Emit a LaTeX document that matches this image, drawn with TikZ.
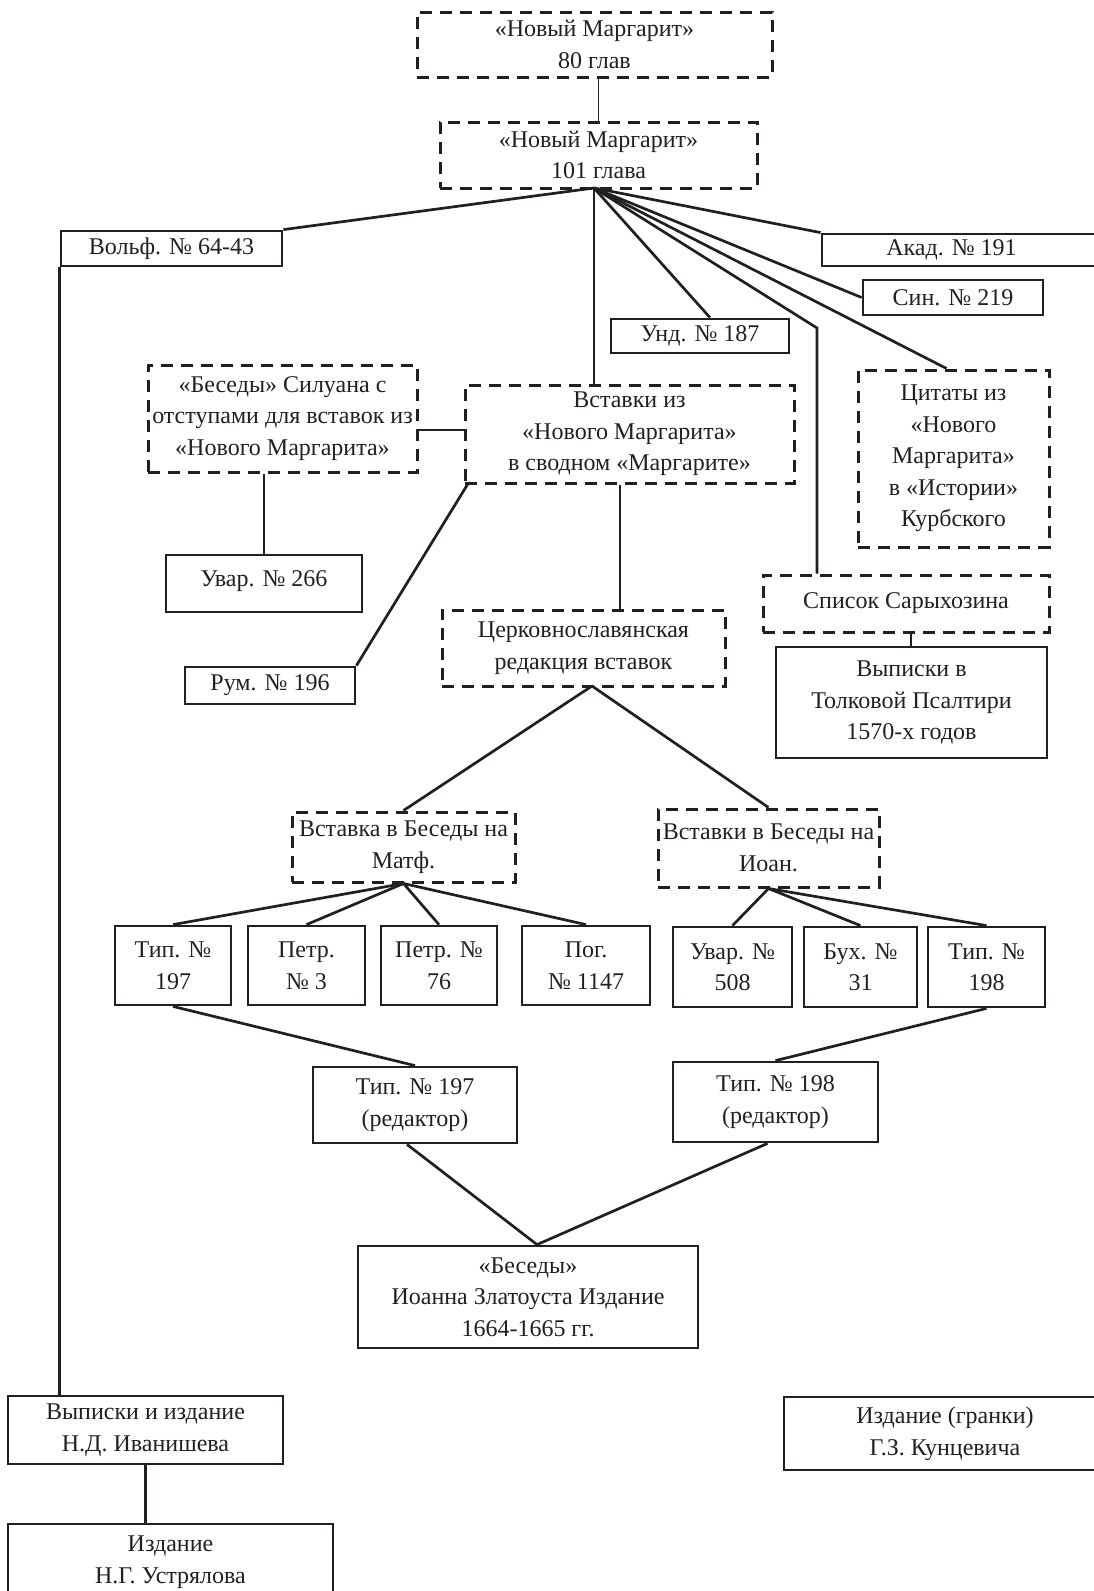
\documentclass[tikz,border=0pt]{standalone}
\usepackage{fontspec}
\setmainfont{Liberation Serif}
\definecolor{ink}{RGB}{35,31,32}
\newcommand\bx[7]{\node[#6, minimum width={(#4-#2)*1pt}, minimum height={(#5-#3)*1pt}] (#1) at ({(#2+#4)/2},{(#3+#5)/2}) {#7};}
\begin{document}
\begin{tikzpicture}[x=1pt,y=-1pt,
  every node/.style={font=\fontsize{24}{31.5}\selectfont, text=ink, align=center, inner sep=1pt},
  solidbox/.style={draw=ink, line width=2.8pt},
  dashbox/.style={draw=ink, line width=3pt, dash pattern=on 12pt off 8pt},
  conn/.style={draw=ink, line width=2.7pt},
  thinconn/.style={draw=ink, line width=1.6pt}]
\useasboundingbox (0,0) rectangle (1093,1591);

\bx{top80}{417}{12}{772}{77}{dashbox}{«Новый Маргарит»\\80 глав}
\bx{m101}{440}{122}{757}{188}{dashbox}{«Новый Маргарит»\\101 глава}
\bx{volf}{61}{231}{282}{266}{solidbox}{Вольф. № 64-43}
\bx{akad}{822}{234}{1105}{266}{solidbox}{Акад. № 191\hspace*{24pt}}
\bx{sin}{863}{280}{1043}{315}{solidbox}{Син. № 219}
\bx{und}{611}{319}{789}{353}{solidbox}{Унд. № 187}
\bx{sil}{148}{365}{417}{472}{dashbox}{«Беседы» Силуана с\\отступами для вставок из\\«Нового Маргарита»}
\bx{vst}{465}{385}{794}{483}{dashbox}{Вставки из\\«Нового Маргарита»\\в сводном «Маргарите»}
\bx{cit}{858}{370}{1049}{547}{dashbox}{Цитаты из\\«Нового\\Маргарита»\\в «Истории»\\Курбского}
\bx{uvA}{166}{555}{362}{612}{solidbox}{\raisebox{10pt}{Увар. № 266}}
\bx{rum}{185}{667}{355}{704}{solidbox}{Рум. № 196}
\bx{cerk}{442}{610}{725}{686}{dashbox}{Церковнославянская\\редакция вставок}
\bx{spis}{763}{575}{1049}{632}{dashbox}{Список Сарыхозина}
\bx{vyp}{776}{647}{1047}{758}{solidbox}{Выписки в\\Толковой Псалтири\\1570-х годов}
\bx{matf}{292}{812}{515}{882}{dashbox}{Вставка в Беседы на\\Матф.}
\bx{ioan}{658}{809}{879}{887}{dashbox}{Вставки в Беседы на\\Иоан.}
\bx{tA}{115}{926}{231}{1005}{solidbox}{Тип. №\\197}
\bx{pA}{248}{926}{365}{1005}{solidbox}{Петр.\\№ 3}
\bx{pB}{381}{926}{497}{1005}{solidbox}{Петр. №\\76}
\bx{pog}{522}{926}{650}{1005}{solidbox}{Пог.\\№ 1147}
\bx{uvB}{673}{927}{792}{1007}{solidbox}{Увар. №\\508}
\bx{bux}{804}{927}{917}{1007}{solidbox}{Бух. №\\31}
\bx{tB}{928}{927}{1045}{1007}{solidbox}{Тип. №\\198}
\bx{rA}{313}{1067}{517}{1143}{solidbox}{Тип. № 197\\(редактор)}
\bx{rB}{673}{1062}{878}{1142}{solidbox}{Тип. № 198\\(редактор)}
\bx{bes}{358}{1246}{698}{1348}{solidbox}{«Беседы»\\Иоанна Златоуста Издание\\1664-1665 гг.}
\bx{ivan}{8}{1396}{283}{1464}{solidbox}{Выписки и издание\\Н.Д. Иванишева}
\bx{ustr}{8}{1524}{333}{1600}{solidbox}{Издание\\Н.Г. Устрялова}
\bx{kunc}{784}{1397}{1106}{1470}{solidbox}{Издание (гранки)\\Г.З. Кунцевича}

\coordinate (apex) at (594,188);
\coordinate (bend) at (817,328);
\coordinate (hy) at (0,430);
\coordinate (vx) at (620,0);
\coordinate (sx) at (911,0);
\coordinate (capex) at (592,686);

\draw[thinconn] (m101.north) -- (m101.north |- top80.south);
\draw[conn] (apex) -- (volf.north east);
\draw[conn] (apex) -- (akad.north west);
\draw[conn] (apex) -- (sin.west);
\draw[conn] (apex) -- ([xshift=10pt]und.north);
\draw[conn] (apex) -- (bend) -- (bend |- spis.north);
\draw[conn] (apex) -- ([xshift=-7pt]cit.north);
\draw[conn] (apex) -- (apex |- vst.north);
\draw[conn] (sil.east |- hy) -- (vst.west |- hy);
\draw[conn] (sil.south -| uvA.north) -- (uvA.north);
\draw[conn] ([xshift=4pt]vst.south west) -- (rum.north east);
\draw[conn] (vst.south -| vx) -- (cerk.north -| vx);
\draw[conn] (spis.south -| sx) -- (vyp.north -| sx);
\draw[conn] (capex) -- (matf.north);
\draw[conn] (capex) -- (ioan.north);
\foreach \t in {tA,pA,pB,pog} \draw[conn] (matf.south) -- (\t.north);
\foreach \t in {uvB,bux,tB} \draw[conn] (ioan.south) -- (\t.north);
\draw[conn] (tA.south) -- (rA.north);
\draw[conn] (tB.south) -- (rB.north);
\draw[conn] ([xshift=-8pt]rA.south) -- ([xshift=9pt]bes.north);
\draw[conn] ([xshift=-8pt]rB.south) -- ([xshift=9pt]bes.north);
\draw[conn] (volf.south west) -- (volf.south west |- ivan.north);
\draw[conn] (ivan.south) -- (ivan.south |- ustr.north);
\end{tikzpicture}
\end{document}
